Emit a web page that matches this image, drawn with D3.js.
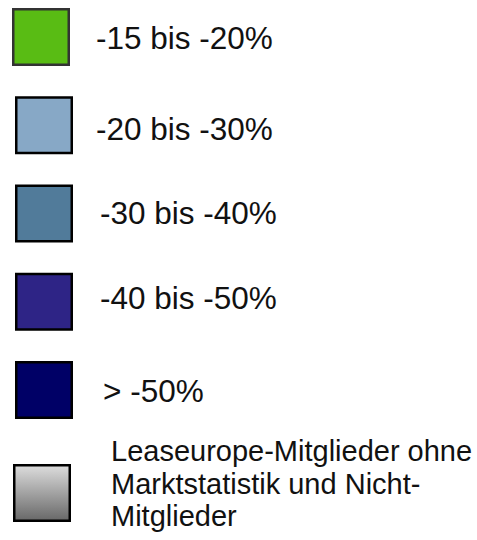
<!DOCTYPE html>
<html>
<head>
<meta charset="utf-8">
<script src="https://cdn.jsdelivr.net/npm/d3@7"></script>
<style>
  body { margin: 0; background: #fff; }
  svg { display: block; }
</style>
</head>
<body>
<div id="chart"></div>
<script>
// legend classes
const labels = ['-15 bis -20%', '-20 bis -30%', '-30 bis -40%', '-40 bis -50%', '> -50%'];
const colors = ['#59BC14', '#87A8C6', '#517B9A', '#2E2486', '#000066'];
const noDataLabel = ['Leaseurope-Mitglieder ohne', 'Marktstatistik und Nicht-', 'Mitglieder'];
const noDataGradient = ['#DDDDDD', '#686868'];

const W = 477, H = 540;
const svg = d3.select('#chart').append('svg').attr('width', W).attr('height', H);
const defs = svg.append('defs');

const grad = defs.append('linearGradient')
  .attr('id', 'nodata-grad')
  .attr('x1', 0).attr('y1', 0).attr('x2', 0).attr('y2', 1);
grad.selectAll('stop')
  .data(noDataGradient)
  .join('stop')
  .attr('offset', (d, i) => i)
  .attr('stop-color', d => d);

var box = 58;
var y = d3.scaleLinear().domain([0, labels.length - 1]).range([8, 361]);
// small hand nudges so it sits like the original
var boxDx = [12, 15, 15, 15, 15];
var textX = [96, 96, 100, 100, 103];
var textDy = [41, 44, 39, 36, 41];

const rows = svg.selectAll('.row')
  .data(labels)
  .join('g')
  .attr('class', 'row')
  .attr('transform', (d, i) => 'translate(0,' + y(i) + ')');

rows.append('rect')
  .attr('x', (d, i) => boxDx[i] + 1.25)
  .attr('y', 1.25)
  .attr('width', box - 2.5)
  .attr('height', box - 2.5)
  .attr('fill', (d, i) => colors[i])
  .attr('stroke', (d, i) => i == 0 ? '#333' : '#000')
  .attr('stroke-width', 2.5);

rows.append('text')
  .attr('x', (d, i) => textX[i])
  .attr('y', (d, i) => textDy[i])
  .style('font-family', 'Liberation Sans, Arial, sans-serif')
  .style('font-size', '31.5px')
  .attr('fill', '#111')
  .text(d => d);

// no data entry
const nd = svg.append('g').attr('transform', 'translate(0,464)');
nd.append('rect')
  .attr('x', 13 + 1.25)
  .attr('y', 1.25)
  .attr('width', box - 2.5)
  .attr('height', box - 2.5)
  .attr('fill', 'url(#nodata-grad)')
  .attr('stroke', '#000')
  .attr('stroke-width', 2.5);

nd.append('text')
  .style('font-family', 'Liberation Sans, Arial, sans-serif')
  .style('font-size', '29px')
  .attr('fill', '#111')
  .selectAll('tspan')
  .data(noDataLabel)
  .join('tspan')
  .attr('x', 111)
  .attr('y', (d, i) => -3 + i * 32.5)
  .text(d => d);
</script>
</body>
</html>
